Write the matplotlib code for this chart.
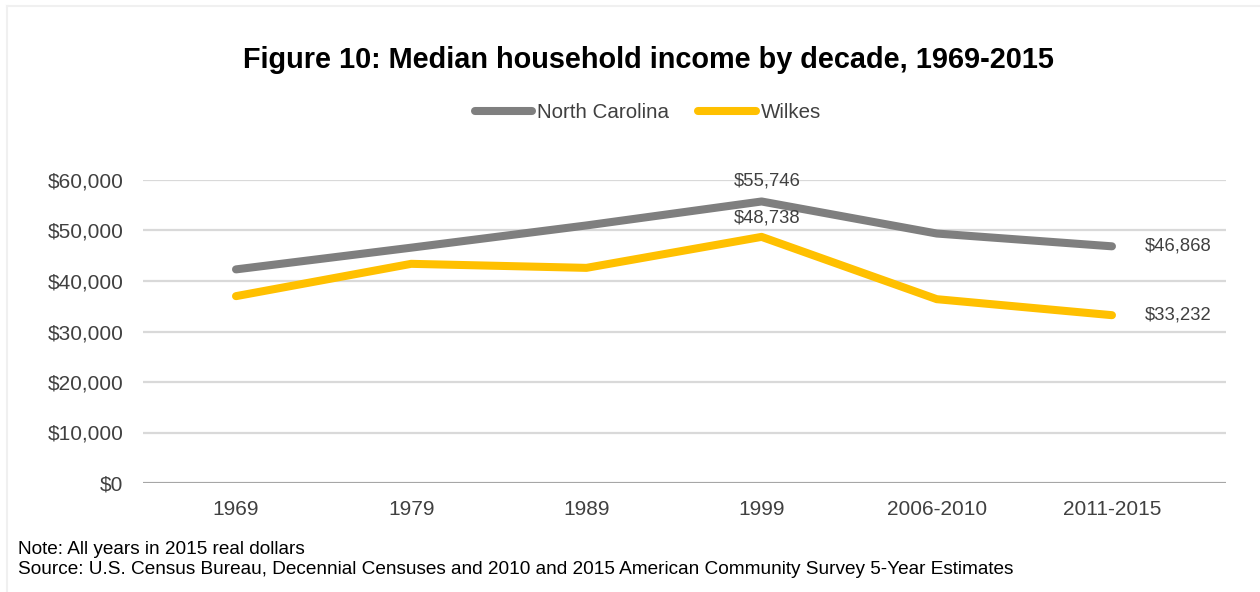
import matplotlib.pyplot as plt
from matplotlib.lines import Line2D
from matplotlib.ticker import FuncFormatter

plt.rcParams['font.family'] = ['Liberation Sans', 'DejaVu Sans']

# median household income, 2015 real dollars
periods = ["1969", "1979", "1989", "1999", "2006-2010", "2011-2015"]
north_carolina = [42300, 46600, 51000, 55746, 49400, 46868]
wilkes = [37000, 43400, 42600, 48738, 36400, 33232]

nc_color = "#7f7f7f"
wilkes_color = "#ffc000"
text_color = "#404040"

fig = plt.figure(figsize=(12.6, 5.92), dpi=100)
ax = fig.add_axes([143 / 1260, 1 - 483 / 592, (1226 - 143) / 1260, (483 - 180) / 592])

x = list(range(len(periods)))
ax.plot(x, north_carolina, color=nc_color, lw=5.8, solid_capstyle="round",
        solid_joinstyle="round", zorder=3)
ax.plot(x, wilkes, color=wilkes_color, lw=5.8, solid_capstyle="round",
        solid_joinstyle="round", zorder=3)

ax.set_ylim(0, 60000)
ax.set_xlim(-0.531, 5.651)
ax.set_yticks(range(0, 60001, 10000))
ax.yaxis.set_major_formatter(FuncFormatter(lambda v, p: "${:,.0f}".format(v)))
ax.set_xticks(x)
ax.set_xticklabels(periods)
ax.grid(axis="y", color="#d9d9d9", lw=1.6, zorder=0)
ax.axhline(0, color="#a6a6a6", lw=2.2, zorder=2)
for s in ax.spines.values():
    s.set_visible(False)
ax.tick_params(length=0, labelsize=15, colors=text_color)
ax.tick_params(axis="x", pad=12)
ax.tick_params(axis="y", pad=14)

# data labels on the peak and the last period
i_peak = north_carolina.index(max(north_carolina))
ax.annotate("${:,}".format(north_carolina[i_peak]), (i_peak, north_carolina[i_peak]),
            xytext=(4, 15), textcoords="offset points", ha="center", va="center",
            fontsize=13.3, color=text_color)
ax.annotate("${:,}".format(wilkes[i_peak]), (i_peak, wilkes[i_peak]),
            xytext=(4, 13.5), textcoords="offset points", ha="center", va="center",
            fontsize=13.3, color=text_color)
last = len(periods) - 1
ax.annotate("${:,}".format(north_carolina[last]), (last, north_carolina[last]),
            xytext=(24, 0), textcoords="offset points", ha="left", va="center",
            fontsize=13.3, color=text_color)
ax.annotate("${:,}".format(wilkes[last]), (last, wilkes[last]),
            xytext=(24, 0), textcoords="offset points", ha="left", va="center",
            fontsize=13.3, color=text_color)

x_mid = 0.5 + 18 / 1260
fig.text(x_mid, 1 - 60 / 592, "Figure 10: Median household income by decade, 1969-2015",
         ha="center", va="center", fontsize=20.8, fontweight="bold", color="black")

handles = [Line2D([], [], color=nc_color, lw=5.8, solid_capstyle="round"),
           Line2D([], [], color=wilkes_color, lw=5.8, solid_capstyle="round")]
fig.legend(handles, ["North Carolina", "Wilkes"], loc="center",
           bbox_to_anchor=(x_mid, 1 - 113 / 592), ncol=2, frameon=False,
           fontsize=14.8, handlelength=2.8, handletextpad=0.25, columnspacing=1.4,
           labelcolor=text_color)

fig.text(18 / 1260, 1 - 549 / 592, "Note: All years in 2015 real dollars",
         ha="left", va="center", fontsize=13.7, color="black")
fig.text(18 / 1260, 1 - 569 / 592,
         "Source: U.S. Census Bureau, Decennial Censuses and 2010 and 2015 American Community Survey 5-Year Estimates",
         ha="left", va="center", fontsize=13.7, color="black")

# faint chart frame along the top and left edges
fig.add_artist(Line2D([7 / 1260, 1], [1 - 6 / 592, 1 - 6 / 592], color="#f0f0f0", lw=1.5))
fig.add_artist(Line2D([7 / 1260, 7 / 1260], [0, 1 - 6 / 592], color="#f0f0f0", lw=1.5))

fig.savefig("out.png", dpi=100)
